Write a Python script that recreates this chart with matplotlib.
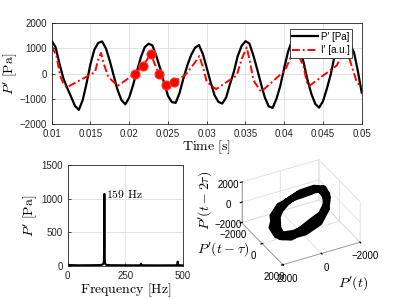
import numpy as np
import matplotlib
matplotlib.use("Agg")
import matplotlib.pyplot as plt
from matplotlib.ticker import FormatStrFormatter

plt.rcParams['mathtext.fontset'] = 'cm'
plt.rcParams['font.family'] = ['Liberation Sans', 'DejaVu Sans']

# --- top panel: pressure and heat release time series ---
t_p = np.linspace(0.01, 0.05, 81)  # 0.5 ms steps
p_prime = [1300, 1050, 400, -180, -570, -920, -1280, -1440, -1050, -380,
           380, 950, 1220, 1280, 1000, 500, -80, -650, -1050, -1220,
           -950, -450, 100, 650, 1050, 1190, 1120, 700, 200, -370,
           -880, -1130, -1160, -760, -180, 330, 750, 1030, 1137, 780,
           230, -340, -850, -1120, -1190, -950, -420, 70, 700, 1100,
           1290, 1200, 740, 190, -400, -950, -1300, -1360, -1000, -480,
           230, 880, 1300, 1400, 1050, 450, -250, -800, -1200, -1350,
           -1100, -600, -30, 700, 1150, 1290, 1300, 1150, 850, 100,
           -750]

t_i = [0.0100, 0.0101, 0.01065, 0.01107, 0.0115, 0.01193, 0.01559, 0.01602,
       0.01636, 0.01679, 0.0173, 0.01851, 0.02075, 0.02174, 0.02277, 0.02381,
       0.02475, 0.02578, 0.0272, 0.0285, 0.02905, 0.02957, 0.0300, 0.0312,
       0.03387, 0.03452, 0.03516, 0.03559, 0.03602, 0.03701, 0.0401, 0.04075,
       0.04126, 0.0415, 0.04247, 0.0429, 0.04324, 0.04677, 0.0476, 0.0479,
       0.0483, 0.04935, 0.0499, 0.0500]
i_prime = [1080, 1050, 651, -67, -392, -549, 63, 588,
           823, 325, -133, -486, 0, 300, 780, 0,
           -450, -320, -67, 455, 700, 196, -329, -616,
           -67, 588, 1043, 455, -263, -721, 129, 588,
           980, 920, 325, -329, -486, 325, 800, 950,
           700, -329, -525, -530]

t_mark = [0.02075, 0.02174, 0.02277, 0.02381, 0.02475, 0.02578]
i_mark = [0, 300, 780, 0, -450, -320]

# --- bottom left: spectrum ---
freq = [0, 20, 50, 100, 140, 150, 155, 157, 158, 159, 160, 161, 163, 168, 180,
        250, 310, 316, 318, 320, 326, 400, 470, 475, 477, 479, 485, 500]
amp = [12, 8, 6, 7, 10, 15, 30, 80, 300, 1070, 250, 60, 25, 12, 8,
       6, 6, 10, 30, 10, 6, 5, 6, 15, 60, 15, 6, 5]

tau = 3  # delay in samples (1.5 ms)

grid_c = '0.87'
frame_c = '0.15'

fig = plt.figure(figsize=(3.99, 2.99), dpi=100)

# bottom right: phase portrait (added first so it sits underneath)
p_arr = np.asarray(p_prime)
x3 = p_arr[2 * tau:]
y3 = p_arr[tau:-tau]
z3 = p_arr[:-2 * tau]

ax3 = fig.add_axes([0.55, 0.085, 0.4, 0.4], projection='3d')
ax3.set_facecolor('none')
ax3.set_proj_type('ortho')
ax3.set_box_aspect((1, 1, 0.55), zoom=1.08)
ax3.plot(x3, y3, z3, color='black', lw=3.2)
ax3.set_xlim(-2000, 2000)
ax3.set_ylim(-2000, 2000)
ax3.set_zlim(-2000, 2000)
ax3.set_xticks([-2000, 0, 2000])
ax3.set_yticks([-2000, 0, 2000])
ax3.set_zticks([-2000, 0, 2000])
ax3.view_init(elev=33, azim=62)
for axis in (ax3.xaxis, ax3.yaxis, ax3.zaxis):
    axis.set_pane_color((1, 1, 1, 0))
    axis._axinfo['grid']['color'] = grid_c
    axis._axinfo['grid']['linewidth'] = 0.6
    axis.line.set_color('0.6')
    axis.line.set_linewidth(0.6)
ax3.tick_params(labelsize=7, pad=-3)
fig.text(0.885, 0.04, r"$P'(t)$", fontsize=10, ha='center')
fig.text(0.56, 0.155, r"$P'(t-\tau)$", fontsize=10, ha='center')
fig.text(0.513, 0.33, r"$P'(t-2\tau)$", fontsize=10, ha='center',
         va='center', rotation=90)

def style_ax(ax):
    ax.grid(True, color=grid_c, lw=0.6)
    ax.set_axisbelow(True)
    for s in ax.spines.values():
        s.set_color(frame_c)
        s.set_linewidth(0.6)
    ax.tick_params(direction='in', length=2.5, width=0.6, labelsize=7,
                   color=frame_c, labelcolor='0.15', pad=3.5)

# top
ax1 = fig.add_axes([0.1296, 0.5853, 0.777, 0.3368])
ax1.plot(t_p, p_prime, color='black', lw=1.6, label="P\u2032 [Pa]")
ax1.plot(t_i, i_prime, color='red', lw=1.4, dashes=(4, 1.5, 1, 1.5),
         label="I\u2032 [a.u.]")
ax1.plot(t_mark, i_mark, 'o', color='red', markersize=6.5,
         markeredgecolor='#ff3a1a', markeredgewidth=0.8)
ax1.set_xlim(0.01, 0.05)
ax1.set_ylim(-2000, 2000)
ax1.set_xticks(np.arange(0.01, 0.0501, 0.005))
ax1.set_yticks([-2000, -1000, 0, 1000, 2000])
ax1.xaxis.set_major_formatter(FormatStrFormatter('%g'))
style_ax(ax1)
ax1.set_xlabel(r'$\mathrm{Time\ [s]}$', fontsize=10, labelpad=0)
ax1.set_ylabel(r"$P'\ \mathrm{[Pa]}$", fontsize=10, labelpad=0)
leg = ax1.legend(loc='upper right', bbox_to_anchor=(0.97, 0.945), fontsize=7,
                 fancybox=False, framealpha=1, edgecolor=frame_c,
                 borderpad=0.3, handlelength=2.6, labelspacing=0.35,
                 handletextpad=0.3, borderaxespad=0)
leg.get_frame().set_linewidth(0.6)

# bottom left
ax2 = fig.add_axes([0.1697, 0.1114, 0.289, 0.3368])
ax2.plot(freq, amp, color='black', lw=1.5)
ax2.set_xlim(0, 500)
ax2.set_ylim(0, 1500)
ax2.set_xticks([0, 250, 500])
ax2.set_yticks([0, 500, 1000, 1500])
style_ax(ax2)
ax2.text(168, 1060, r'$\mathrm{159\ Hz}$', fontsize=8.5, va='center')
ax2.set_xlabel(r'$\mathrm{Frequency\ [Hz]}$', fontsize=10, labelpad=1)
ax2.set_ylabel(r"$P'\ \mathrm{[Pa]}$", fontsize=10, labelpad=1)

fig.savefig('out.png', dpi=100)
